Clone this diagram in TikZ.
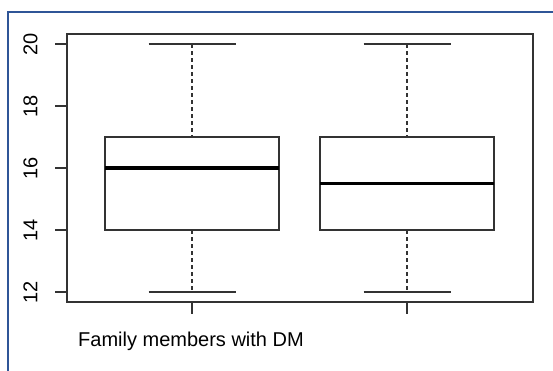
\documentclass[tikz,border=0pt]{standalone}
\usepackage{fontspec}
\setmainfont{Liberation Sans}
\usetikzlibrary{positioning}
\definecolor{framecolor}{HTML}{2F5597}
\definecolor{plotgray}{HTML}{333333}

\begin{document}
\begin{tikzpicture}[x=1pt, y=-1pt,
        plotline/.style={draw=plotgray, line width=1.3pt},
        whiskerline/.style={plotline, dash pattern=on 4pt off 3pt},
        medianline/.style={draw=black, line width=3.6pt},
        ticklabel/.style={font=\fontsize{20}{24}\selectfont, rotate=90, inner sep=0pt}]
        \useasboundingbox (0,0) rectangle (553,370);

        % Outer frame
        \draw[framecolor, line width=2pt] (8,375) -- (8,12) -- (558,12);

        % Plot area and axis
        \draw[plotline] (67,34) rectangle (533,302);
        \foreach \v in {12,14,...,20} {
            \draw[plotline] (55,{292-(\v-12)*31}) -- (67,{292-(\v-12)*31});
            \node[ticklabel] (tick\v) at (30.5,{292-(\v-12)*31}) {\v};
        }

        % Boxes: centre / median
        \foreach \cx/\med in {192/16, 407/15.5} {
            \draw[plotline] (\cx,302) -- (\cx,314);
            \draw[plotline] (\cx-43.5,44) -- (\cx+43.5,44);
            \draw[plotline] (\cx-43.5,292) -- (\cx+43.5,292);
            \draw[whiskerline] (\cx,44) -- (\cx,137);
            \draw[whiskerline] (\cx,230) -- (\cx,292);
            \draw[plotline, fill=white] (\cx-87,137) rectangle (\cx+87,230);
            \draw[medianline] (\cx-87,{292-(\med-12)*31}) -- (\cx+87,{292-(\med-12)*31});
        }

        % Axis label
        \node (xlabel) [font=\fontsize{20}{24}\selectfont, inner sep=0pt] at (191,341) {Family members with DM};
\end{tikzpicture}
\end{document}
